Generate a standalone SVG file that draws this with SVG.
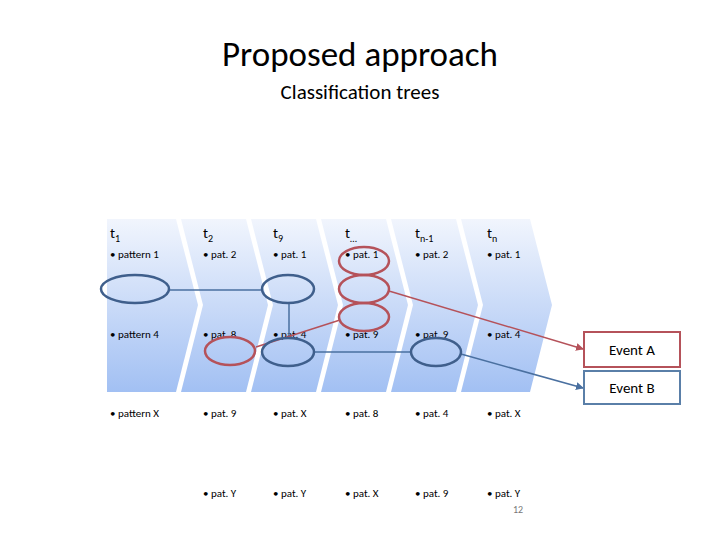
<svg xmlns="http://www.w3.org/2000/svg" width="720" height="540" viewBox="0 0 720 540">
<style>
text{font-family:Calibri,"Liberation Sans","DejaVu Sans",sans-serif;fill:#000}
.p{font-size:11px}.t{font-size:15px}.s{font-size:10px}
.b{fill:none;stroke:#3f5f8c;stroke-width:2.5}.r{fill:none;stroke:#b5525a;stroke-width:2.5}
.lb{stroke:#4a70a0;stroke-width:1.5;fill:none}.lr{stroke:#b5525a;stroke-width:1.5;fill:none}
.ch{fill:url(#g)}
</style>
<defs>
<linearGradient id="g" x1="0" y1="0" x2="0" y2="1"><stop offset="0" stop-color="#f1f5fd"/><stop offset="1" stop-color="#a2c0f3"/></linearGradient>
<marker id="ar" markerWidth="8" markerHeight="8" refX="7" refY="4" orient="auto" markerUnits="userSpaceOnUse"><path d="M0,0L8,4L0,8z" fill="#b5525a"/></marker>
<marker id="ab" markerWidth="8" markerHeight="8" refX="7" refY="4" orient="auto" markerUnits="userSpaceOnUse"><path d="M0,0L8,4L0,8z" fill="#4a70a0"/></marker>
</defs>
<text x="360" y="66" text-anchor="middle" style="font-size:35px">Proposed approach</text>
<text x="360" y="99" text-anchor="middle" style="font-size:21px">Classification trees</text>
<g id="chevrons">
<path class="ch" d="M107,219H176L198,305L176,392H107Z"/>
<path class="ch" d="M181,219H246L268,305L246,392H181L203,305Z"/>
<path class="ch" d="M251,219H316L338,305L316,392H251L273,305Z"/>
<path class="ch" d="M321,219H386L408,305L386,392H321L343,305Z"/>
<path class="ch" d="M391,219H456L478,305L456,392H391L413,305Z"/>
<path class="ch" d="M461,219H530L552,305L530,392H461L483,305Z"/>
</g>
<g id="labels">
<text class="t" x="110" y="238">t<tspan class="s" dy="4">1</tspan></text>
<text class="t" x="203" y="238">t<tspan class="s" dy="4">2</tspan></text>
<text class="t" x="273" y="238">t<tspan class="s" dy="4">9</tspan></text>
<text class="t" x="345" y="238">t<tspan class="s" dy="4">…</tspan></text>
<text class="t" x="415" y="238">t<tspan class="s" dy="4">n-1</tspan></text>
<text class="t" x="487" y="238">t<tspan class="s" dy="4">n</tspan></text>
<text class="p" x="110" y="258">• pattern 1</text><text class="p" x="203" y="258">• pat. 2</text><text class="p" x="273" y="258">• pat. 1</text><text class="p" x="345" y="258">• pat. 1</text><text class="p" x="415" y="258">• pat. 2</text><text class="p" x="487" y="258">• pat. 1</text>
<text class="p" x="110" y="338">• pattern 4</text><text class="p" x="203" y="338">• pat. 8</text><text class="p" x="273" y="338">• pat. 4</text><text class="p" x="345" y="338">• pat. 9</text><text class="p" x="415" y="338">• pat. 9</text><text class="p" x="487" y="338">• pat. 4</text>
<text class="p" x="110" y="417">• pattern X</text><text class="p" x="203" y="417">• pat. 9</text><text class="p" x="273" y="417">• pat. X</text><text class="p" x="345" y="417">• pat. 8</text><text class="p" x="415" y="417">• pat. 4</text><text class="p" x="487" y="417">• pat. X</text>
<text class="p" x="203" y="497">• pat. Y</text><text class="p" x="273" y="497">• pat. Y</text><text class="p" x="345" y="497">• pat. X</text><text class="p" x="415" y="497">• pat. 9</text><text class="p" x="487" y="497">• pat. Y</text>
<text x="518" y="513" text-anchor="middle" style="font-size:10px;fill:#777">12</text>
</g>
<g id="connectors">
<path class="lb" d="M169,290H262M289,304V338M314,352H410"/>
<path class="lb" d="M461,354L583,388" marker-end="url(#ab)"/>
<path class="lr" d="M256,347L340,320"/>
<path class="lr" d="M389,291L583,349" marker-end="url(#ar)"/>
</g>
<g id="ellipses">
<ellipse class="b" cx="135" cy="289" rx="34" ry="14"/>
<ellipse class="b" cx="288" cy="289" rx="26" ry="14"/>
<ellipse class="b" cx="288" cy="352" rx="26" ry="14"/>
<ellipse class="r" cx="230" cy="351" rx="25" ry="14"/>
<ellipse class="r" cx="364" cy="261" rx="25" ry="14"/>
<ellipse class="r" cx="364" cy="289" rx="25" ry="14"/>
<ellipse class="r" cx="364" cy="317" rx="25" ry="14"/>
<ellipse class="b" cx="436" cy="352" rx="25" ry="14"/>
</g>
<g id="eventA"><rect x="584" y="332" width="96" height="35" fill="#fff" stroke="#b5525a" stroke-width="2"/><text x="632" y="355" text-anchor="middle" style="font-size:15px">Event A</text></g>
<g id="eventB"><rect x="584" y="371" width="96" height="33" fill="#fff" stroke="#5a7fa8" stroke-width="2"/><text x="632" y="393" text-anchor="middle" style="font-size:15px">Event B</text></g>
</svg>
